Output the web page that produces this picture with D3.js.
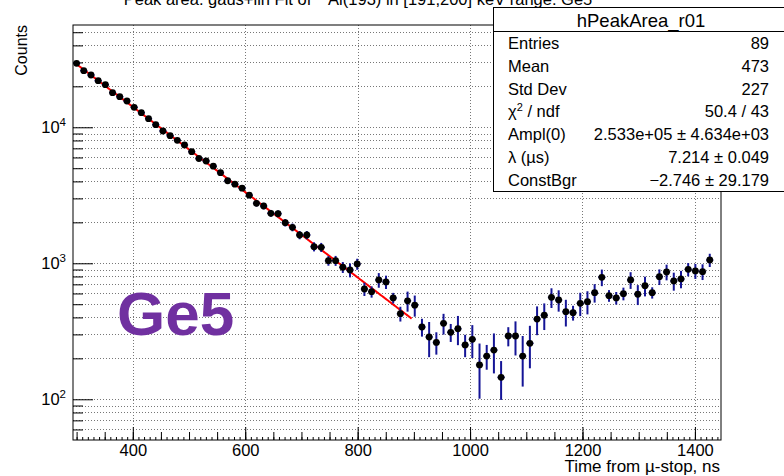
<!DOCTYPE html>
<html>
<head>
<meta charset="utf-8">
<script src="https://cdn.jsdelivr.net/npm/d3@7"></script>
<style>
  html, body { margin: 0; padding: 0; background: #fff; }
  svg text { font-family: "Liberation Sans", Arial, Helvetica, sans-serif; }
</style>
</head>
<body>
<svg id="chart" width="784" height="476"></svg>
<script>
// Histogram binning (ns)
const binLow = 293.6;
const binWidth = 12.8;

// Fitted peak area per time bin
const counts = [
  29550, 26080, 24240, 22010, 20570, 17970, 16790, 15610, 14030, 12810,
  11570, 10450, 9393, 8675, 8023, 7412, 6616, 5897, 5652, 5176,
  4637, 4043, 3815, 3566, 3168, 2761, 2638, 2332, 2316, 1989,
  1839, 1615, 1615, 1325, 1311, 1045, 1045, 935, 893, 988,
  647, 618, 754, 729, 556, 426, 530, 492, 340, 287,
  262, 362, 311, 330, 251, 276, 179, 208, 230, 145,
  292, 292, 208, 258, 389, 415, 562, 537, 441, 433,
  508, 522, 608, 789, 578, 556, 598, 754, 592, 684,
  608, 797, 863, 741, 767, 903, 878, 868, 1057
];
const errors = [
  480, 452, 436, 416, 401, 375, 363, 350, 331, 317,
  301, 286, 271, 261, 251, 241, 228, 215, 210, 201,
  191, 178, 173, 167, 158, 147, 144, 135, 135, 125,
  120, 113, 113, 102, 101, 85, 88, 86, 105, 92,
  72, 59, 93, 82, 50, 53, 89, 87, 51, 83,
  49, 63, 47, 80, 47, 75, 78, 43, 75, 46,
  47, 82, 84, 89, 93, 92, 93, 96, 98, 54,
  99, 101, 94, 110, 57, 59, 64, 106, 99, 113,
  58, 105, 114, 112, 112, 101, 111, 115, 118
];

// Exponential + constant fit
const fitAmpl = 2.533e5;
const fitLambda = 7.214;     // 1/us
const fitConst = -2.746;
const fitRange = [300, 896];

// Axes
const xDomain = [293.6, 1446.4];
const yDomain = [50.2, 56500];
const xMajorTicks = [400, 600, 800, 1000, 1200, 1400];
const xMinorTicks = d3.range(300, 1450, 50);
const xTinyTicks = d3.range(300, 1450, 10);
const yDecades = [100, 1000, 10000];
const yDecadeExps = ["2", "3", "4"];

// Statistics box
const statTitle = "hPeakArea_r01";
const statLabels = ["Entries", "Mean", "Std Dev", "χ2 / ndf", "Ampl(0)", "λ (µs)", "ConstBgr"];
const statValues = ["89", "473", "227", "50.4 / 43", "2.533e+05 ± 4.634e+03", "7.214 ± 0.049", "−2.746 ± 29.179"];

const svg = d3.select("#chart");
const frame = { left: 73, right: 721, top: 25, bottom: 440 };

const x = d3.scaleLinear(xDomain, [frame.left, frame.right]);
const y = d3.scaleLog(yDomain, [frame.bottom, frame.top]);

// Grid
const gridColor = "#777";
const grid = svg.append("g");
grid.selectAll("line.gx").data(xMajorTicks).join("line")
  .attr("x1", d => Math.round(x(d)) + 0.5).attr("x2", d => Math.round(x(d)) + 0.5)
  .attr("y1", frame.top).attr("y2", frame.bottom)
  .attr("stroke", gridColor).attr("stroke-dasharray", "1,2");
const yGridTicks = y.ticks().filter(v => v >= yDomain[0] && v <= yDomain[1]);
grid.selectAll("line.gy").data(yGridTicks).join("line")
  .attr("x1", frame.left).attr("x2", frame.right)
  .attr("y1", d => Math.round(y(d)) + 0.5).attr("y2", d => Math.round(y(d)) + 0.5)
  .attr("stroke", gridColor).attr("stroke-dasharray", "1,2");

// Bottom axis: major ticks with labels, minor and tiny ticks inside frame
const xAxis = d3.axisBottom(x).tickValues(xMajorTicks).tickSize(-13).tickPadding(4)
  .tickFormat(d3.format("d"));
const gx = svg.append("g").attr("transform", `translate(0,${frame.bottom})`).call(xAxis);
gx.select(".domain").remove();
gx.selectAll("text").attr("font-size", 16.5).attr("fill", "#000")
  .attr("font-family", "Liberation Sans, Arial, sans-serif");
gx.selectAll("line").attr("stroke", "#000");
svg.append("g").attr("transform", `translate(0,${frame.bottom})`)
  .call(d3.axisBottom(x).tickValues(xMinorTicks).tickSize(-8).tickFormat(""))
  .call(g => g.select(".domain").remove());
svg.append("g").attr("transform", `translate(0,${frame.bottom})`)
  .call(d3.axisBottom(x).tickValues(xTinyTicks).tickSize(-3).tickFormat(""))
  .call(g => g.select(".domain").remove());

// Left axis: decades long, minor ticks short
const yMinor = yGridTicks.filter(v => !yDecades.includes(v));
svg.append("g").attr("transform", `translate(${frame.left},0)`)
  .call(d3.axisLeft(y).tickValues(yMinor).tickSize(-10).tickFormat(""))
  .call(g => g.select(".domain").remove());
svg.append("g").attr("transform", `translate(${frame.left},0)`)
  .call(d3.axisLeft(y).tickValues(yDecades).tickSize(-20).tickFormat(""))
  .call(g => g.select(".domain").remove());

const yLab = svg.append("g");
yDecades.forEach((v, i) => {
  const t = yLab.append("text")
    .attr("x", 66).attr("y", y(v) + 6)
    .attr("text-anchor", "end").attr("font-size", 16.5);
  t.append("tspan").text("10");
  t.append("tspan").attr("font-size", 11.5).attr("dy", -7).text(yDecadeExps[i]);
});

// Fit curve
const fitFn = t => fitAmpl * Math.exp(-fitLambda * t / 1000) + fitConst;
const fitT = d3.range(fitRange[0], fitRange[1] + 0.001, 2);
svg.append("path")
  .datum(fitT)
  .attr("fill", "none").attr("stroke", "#ff0000").attr("stroke-width", 2)
  .attr("d", d3.line().x(t => x(t)).y(t => y(fitFn(t))));

// Data points with error bars
const pts = counts.map((v, i) => ({
  c: binLow + binWidth * (i + 0.5), v, e: errors[i]
}));
const errColor = "#141496";
const pg = svg.append("g");
pg.selectAll("line.ev").data(pts).join("line")
  .attr("x1", d => x(d.c)).attr("x2", d => x(d.c))
  .attr("y1", d => y(d.v + d.e)).attr("y2", d => y(Math.max(d.v - d.e, 1)))
  .attr("stroke", errColor).attr("stroke-width", 2);
pg.selectAll("line.eh").data(pts).join("line")
  .attr("x1", d => x(d.c - binWidth / 2)).attr("x2", d => x(d.c + binWidth / 2))
  .attr("y1", d => y(d.v)).attr("y2", d => y(d.v))
  .attr("stroke", errColor).attr("stroke-width", 1.5);
pg.selectAll("circle").data(pts).join("circle")
  .attr("cx", d => x(d.c)).attr("cy", d => y(d.v)).attr("r", 3.4)
  .attr("fill", "#000");

// Frame
svg.append("rect")
  .attr("x", frame.left).attr("y", frame.top)
  .attr("width", frame.right - frame.left).attr("height", frame.bottom - frame.top)
  .attr("fill", "none").attr("stroke", "#000").attr("stroke-width", 1);

// Detector label
svg.append("text")
  .attr("x", 117).attr("y", 335)
  .attr("font-size", 62).attr("font-weight", "bold").attr("fill", "#7030a0")
  .text("Ge5");

// Axis titles
svg.append("text")
  .attr("x", 720).attr("y", 472).attr("text-anchor", "end").attr("font-size", 17)
  .text("Time from µ-stop, ns");
svg.append("text")
  .attr("transform", "translate(27,25) rotate(-90)")
  .attr("text-anchor", "end").attr("font-size", 16)
  .text("Counts");

// Title (sits at the very top of the canvas)
const title = svg.append("text")
  .attr("x", 358).attr("y", 5).attr("text-anchor", "middle").attr("font-size", 16.5);
title.append("tspan").text("Peak area: gaus+lin Fit of ");
title.append("tspan").attr("font-size", 11).attr("dy", -7).text("27");
title.append("tspan").attr("dy", 7).text("Al(193) in [191,200] keV range: Ge5");

// Statistics box
const box = { x: 493.5, y: 7.5, w: 300, h: 184, head: 24 };
const sb = svg.append("g");
sb.append("rect").attr("x", box.x).attr("y", box.y).attr("width", box.w).attr("height", box.h)
  .attr("fill", "#fff").attr("stroke", "#000");
sb.append("line").attr("x1", box.x).attr("x2", box.x + box.w)
  .attr("y1", box.y + box.head).attr("y2", box.y + box.head).attr("stroke", "#000");
sb.append("text").attr("x", 641).attr("y", box.y + 19).attr("text-anchor", "middle")
  .attr("font-size", 18.5).text(statTitle);
statLabels.forEach((lab, i) => {
  const yy = 49 + i * 22.8;
  const t = sb.append("text").attr("x", 508).attr("y", yy).attr("font-size", 16.5);
  if (lab.startsWith("χ2")) {
    t.append("tspan").text("χ");
    t.append("tspan").attr("font-size", 11).attr("dy", -6).text("2");
    t.append("tspan").attr("dy", 6).text(" / ndf");
  } else {
    t.text(lab);
  }
  sb.append("text").attr("x", 769).attr("y", yy).attr("text-anchor", "end")
    .attr("font-size", 16.5).text(statValues[i]);
});
</script>
</body>
</html>
